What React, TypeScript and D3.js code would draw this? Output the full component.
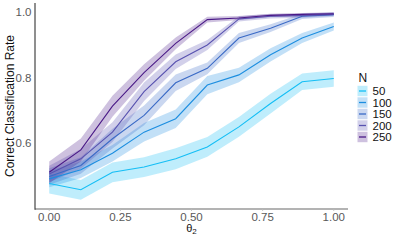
import * as d3 from "d3";

const thetaValues = [0, 1 / 9, 2 / 9, 3 / 9, 4 / 9, 5 / 9, 6 / 9, 7 / 9, 8 / 9, 1];
const sampleSizes = [50, 100, 150, 200, 250];

// mean classification rate per N
const rate50 = [0.478, 0.459, 0.512, 0.528, 0.553, 0.589, 0.65, 0.721, 0.787, 0.797];
const rate100 = [0.492, 0.52, 0.57, 0.634, 0.675, 0.777, 0.808, 0.869, 0.92, 0.955];
const rate150 = [0.499, 0.533, 0.614, 0.685, 0.784, 0.828, 0.92, 0.95, 0.986, 0.991];
const rate200 = [0.507, 0.553, 0.634, 0.757, 0.848, 0.899, 0.978, 0.986, 0.988, 0.992];
const rate250 = [0.512, 0.58, 0.713, 0.815, 0.904, 0.976, 0.981, 0.989, 0.992, 0.994];

// half width of the band around each mean
const band50 = [0.03, 0.03, 0.03, 0.03, 0.032, 0.03, 0.03, 0.03, 0.025, 0.025];
const band100 = [0.025, 0.025, 0.025, 0.028, 0.028, 0.028, 0.022, 0.02, 0.015, 0.012];
const band150 = [0.025, 0.025, 0.03, 0.03, 0.025, 0.018, 0.015, 0.012, 0.008, 0.007];
const band200 = [0.025, 0.03, 0.03, 0.028, 0.022, 0.015, 0.008, 0.007, 0.006, 0.005];
const band250 = [0.033, 0.035, 0.032, 0.025, 0.018, 0.009, 0.006, 0.005, 0.004, 0.004];

const xTicks = [0, 0.25, 0.5, 0.75, 1];
const yTicks = [0.6, 0.8, 1.0];

const colors = ["#14BEF5", "#1C8EE0", "#3A6AC6", "#5852B0", "#4A1987"];

const rates = [rate50, rate100, rate150, rate200, rate250];
const bands = [band50, band100, band150, band200, band250];

const series = sampleSizes.map((n, i) => ({
  n,
  color: colors[i],
  points: thetaValues.map((t, j) => ({
    t,
    mean: rates[i][j],
    lo: rates[i][j] - bands[i][j],
    hi: rates[i][j] + bands[i][j],
  })),
}));

export default function App() {
  const width = 400;
  const height = 240;
  const panel = { left: 35, right: 348, top: 3, bottom: 209 };

  const allLo = d3.min(series, (s) => d3.min(s.points, (p) => p.lo)) as number;
  const allHi = d3.max(series, (s) => d3.max(s.points, (p) => p.hi)) as number;
  const pad = (allHi - allLo) * 0.05;

  const x = d3.scaleLinear().domain([-0.05, 1.05]).range([panel.left, panel.right]);
  const y = d3
    .scaleLinear()
    .domain([allLo - pad, allHi + pad])
    .range([panel.bottom, panel.top]);

  const area = d3
    .area<{ t: number; lo: number; hi: number }>()
    .x((d) => x(d.t))
    .y0((d) => y(d.lo))
    .y1((d) => y(d.hi));
  const line = d3
    .line<{ t: number; mean: number }>()
    .x((d) => x(d.t))
    .y((d) => y(d.mean));

  const font = "'Liberation Sans', Arial, sans-serif";

  return (
    <div style={{ position: "fixed", left: 0, top: 0 }}>
      <svg width={width} height={height} style={{ display: "block", background: "#fff" }}>
        {series.map((s) => (
          <path key={"r" + s.n} d={area(s.points) || ""} fill={s.color} fillOpacity={0.27} />
        ))}
        {series.map((s) => (
          <path key={"l" + s.n} d={line(s.points) || ""} fill="none" stroke={s.color} strokeWidth={1.1} />
        ))}

        <line x1={panel.left} x2={panel.right} y1={panel.bottom} y2={panel.bottom} stroke="#9a9a9a" strokeWidth={1.6} />
        <line x1={panel.left} x2={panel.left} y1={panel.top} y2={panel.bottom + 0.8} stroke="#333" strokeWidth={1.1} />

        {xTicks.map((t) => (
          <g key={"xt" + t}>
            <line x1={x(t)} x2={x(t)} y1={panel.bottom} y2={panel.bottom + 2} stroke="#bbb" strokeWidth={0.8} />
            <text x={x(t)} y={220.5} textAnchor="middle" fontFamily={font} fontSize={11.5} fill="#595959">
              {d3.format(".2f")(t)}
            </text>
          </g>
        ))}
        {yTicks.map((t) => (
          <text key={"yt" + t} x={31.5} y={y(t) + 4} textAnchor="end" fontFamily={font} fontSize={11.5} fill="#595959">
            {d3.format(".1f")(t)}
          </text>
        ))}

        <text x={191.5} y={232} textAnchor="middle" fontFamily={font} fontSize={11} fill="#111">
          θ<tspan fontSize={8} dy={2}>2</tspan>
        </text>
        <text
          transform={`translate(13.5,${(panel.top + panel.bottom) / 2}) rotate(-90)`}
          textAnchor="middle"
          fontFamily={font}
          fontSize={12}
          fill="#111"
        >
          Correct Classification Rate
        </text>

        <g>
          <text x={358.5} y={82} fontFamily={font} fontSize={12} fill="#111">
            N
          </text>
          {series.map((s, i) => {
            const cy = 91 + i * 11.5;
            return (
              <g key={"lg" + s.n}>
                <rect x={357.5} y={cy - 5.2} width={10} height={10.4} fill={s.color} fillOpacity={0.27} />
                <line x1={359} x2={366} y1={cy} y2={cy} stroke={s.color} strokeWidth={1.3} />
                <text x={372.5} y={cy + 4} fontFamily={font} fontSize={11.5} fill="#111">
                  {s.n}
                </text>
              </g>
            );
          })}
        </g>
      </svg>
    </div>
  );
}
